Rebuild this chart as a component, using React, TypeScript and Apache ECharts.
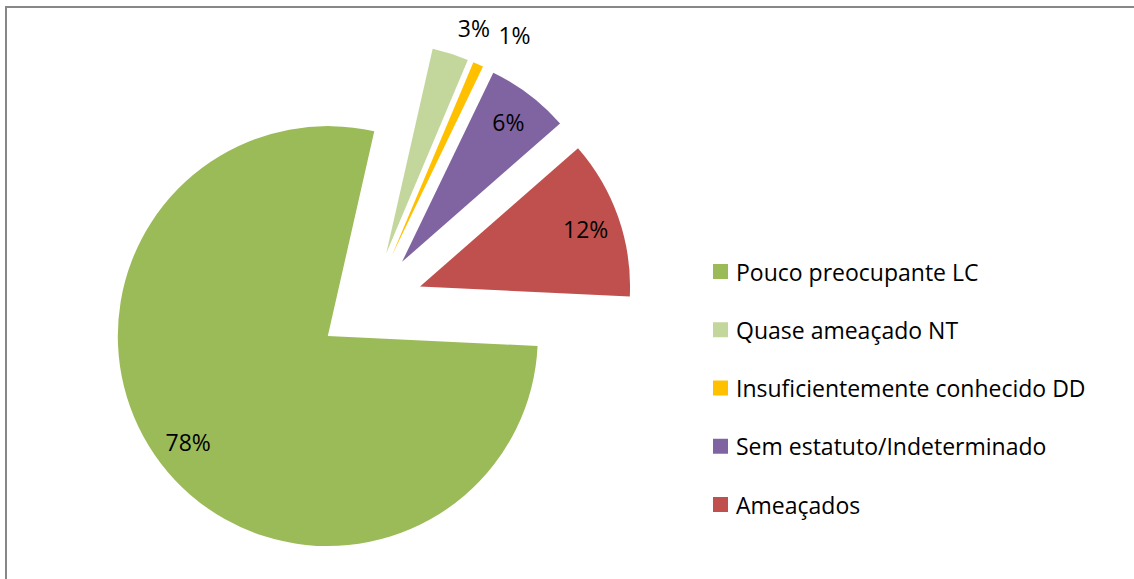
import React, { useEffect, useRef } from 'react';
import * as echarts from 'echarts';

const categories = [
  'Pouco preocupante LC',
  'Quase ameaçado NT',
  'Insuficientemente conhecido DD',
  'Sem estatuto/Indeterminado',
  'Ameaçados',
];
const values = [77.8, 2.8, 0.8, 6.4, 12.2];
const colors = ['#9BBB59', '#C3D69B', '#FFC000', '#8064A2', '#C0504D'];
const outsideLabelCats = ['Quase ameaçado NT', 'Insuficientemente conhecido DD'];

const FONT = 'Open Sans';
const FS = 23;

// label-line geometry for the two small outside labels (layout only)
const outsideLine: Record<string, { length: number; length2: number }> = {
  'Quase ameaçado NT': { length: 27, length2: -6 },
  'Insuficientemente conhecido DD': { length: 32, length2: 2 },
};

export default function App() {
  const ref = useRef<HTMLDivElement>(null);
  useEffect(() => {
    if (!ref.current) return;
    const chart = echarts.init(ref.current, undefined, { renderer: 'svg' });
    const center = [370, 304];
    const startAngle = -2.7;
    const mainData = categories.map((name, i) => {
      const isOut = outsideLabelCats.includes(name);
      return {
        name,
        value: values[i],
        selected: true,
        itemStyle: { color: colors[i] },
        label: { show: isOut },
        labelLine: isOut
          ? { show: false, length: outsideLine[name].length, length2: outsideLine[name].length2 }
          : { show: false },
      };
    });
    const labelData = categories.map((name, i) => ({
      name,
      value: values[i],
      selected: true,
      itemStyle: { color: 'rgba(0,0,0,0)' },
      label: { show: !outsideLabelCats.includes(name) },
    }));
    chart.setOption({
      animation: false,
      backgroundColor: '#ffffff',
      graphic: [
        {
          type: 'rect',
          shape: { x: 6, y: 7, width: 1300, height: 800 },
          style: { fill: 'none', stroke: '#878787', lineWidth: 2 },
          silent: true,
          z: -10,
        },
      ],
      legend: {
        data: categories,
        orient: 'vertical',
        left: 708,
        top: 255,
        itemWidth: 15,
        itemHeight: 15,
        itemGap: 35.25,
        icon: 'rect',
        selectedMode: false,
        textStyle: {
          fontFamily: FONT,
          fontSize: FS,
          lineHeight: 23,
          color: '#000',
          padding: [0, 0, 0, 3],
        },
      },
      series: [
        {
          type: 'pie',
          center,
          radius: [0, 210],
          startAngle,
          clockwise: true,
          selectedMode: 'multiple',
          selectedOffset: 53,
          avoidLabelOverlap: false,
          percentPrecision: 0,
          silent: true,
          itemStyle: { borderWidth: 0 },
          label: {
            position: 'outside',
            formatter: '{d}%',
            fontFamily: FONT,
            fontSize: FS,
            color: '#000',
          },
          labelLine: { show: false, length: 30, length2: 0 },
          labelLayout: { hideOverlap: false },
          data: mainData,
        },
        {
          type: 'pie',
          center,
          radius: [0, 345],
          startAngle,
          clockwise: true,
          selectedMode: 'multiple',
          selectedOffset: 53,
          avoidLabelOverlap: false,
          percentPrecision: 0,
          silent: true,
          label: {
            position: 'inside',
            formatter: '{d}%',
            fontFamily: FONT,
            fontSize: FS,
            color: '#000',
          },
          labelLine: { show: false },
          labelLayout: { hideOverlap: false },
          data: labelData,
        },
      ],
    });
    return () => chart.dispose();
  }, []);
  return (
    <div
      ref={ref}
      style={{ position: 'absolute', left: 0, top: 0, width: 1134, height: 579 }}
    />
  );
}
